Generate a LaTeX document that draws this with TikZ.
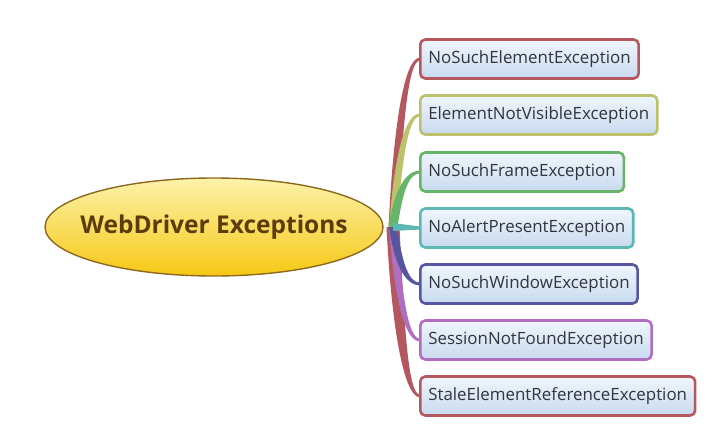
\documentclass[tikz,border=0pt]{standalone}
\usepackage{fontspec}
\setmainfont{Open Sans}
\usetikzlibrary{shapes.geometric,calc,backgrounds}
\definecolor{cRed}{RGB}{178,88,94}
\definecolor{cOlive}{RGB}{188,194,108}
\definecolor{cGreen}{RGB}{104,180,104}
\definecolor{cTeal}{RGB}{92,184,178}
\definecolor{cIndigo}{RGB}{86,86,160}
\definecolor{cOrchid}{RGB}{176,110,190}
\definecolor{boxTop}{RGB}{240,246,252}
\definecolor{boxBot}{RGB}{200,218,240}
\definecolor{ellTop}{RGB}{252,242,170}
\definecolor{ellBot}{RGB}{246,200,20}
\definecolor{ellLine}{RGB}{140,105,30}
\definecolor{titleC}{RGB}{92,60,12}
\definecolor{txtC}{RGB}{50,52,62}
\tikzset{
  exbox/.style={draw=#1, line width=2.6pt, rounded corners=5pt, top color=boxTop, bottom color=boxBot,
    anchor=west, minimum height=39pt, inner xsep=8pt, text=txtC, font=\fontsize{16.9}{20}\selectfont},
  rootell/.style={ellipse, draw=ellLine, line width=1.4pt, top color=ellTop, bottom color=ellBot,
    minimum width=338pt, minimum height=98pt, inner xsep=-40pt, inner ysep=0pt,
    text=titleC, font=\fontsize{24.5}{28}\bfseries\selectfont}
}
\newcommand\branch[4]{%
  \fill[#1] let \p1=(hub), \p2=(#2.west) in
    (\x1-#3/2,\y1) .. controls (\x1+5pt-#3/2,{\y1+(\y2-\y1)*0.6}) and (\x1+11pt,\y2+#4*1.4pt) .. (\x2+1pt,\y2+#4*1.4pt)
    -- (\x2+1pt,\y2-#4*1.4pt) .. controls (\x1+15pt,\y2-#4*1.4pt) and (\x1+5pt+#3/2,{\y1+(\y2-\y1)*0.6}) .. (\x1+#3/2,\y1) -- cycle;}
\begin{document}
\begin{tikzpicture}[x=1pt,y=-1pt]
\useasboundingbox (0,0) rectangle (715,436);
\coordinate (hub) at (393,227);
\node[exbox=cRed] (b1) at (419,59) {NoSuchElementException};
\node[exbox=cOlive] (b2) at (419,115) {ElementNotVisibleException};
\node[exbox=cGreen] (b3) at (419,172) {NoSuchFrameException};
\node[exbox=cTeal] (b4) at (419,228) {NoAlertPresentException};
\node[exbox=cIndigo] (b5) at (419,284) {NoSuchWindowException};
\node[exbox=cOrchid] (b6) at (419,340) {SessionNotFoundException};
\node[exbox=cRed] (b7) at (419,396) {StaleElementReferenceException};
\begin{scope}[on background layer]
\branch{cRed}{b1}{9pt}{1}
\branch{cRed}{b7}{13pt}{-1}
\branch{cOlive}{b2}{8pt}{1}
\branch{cOrchid}{b6}{8pt}{-1}
\branch{cIndigo}{b5}{8pt}{-1}
\branch{cGreen}{b3}{9pt}{1}
\fill[cTeal] let \p1=(hub), \p2=(b4.west) in (\x1,\y1+4pt) -- (\x2+1pt,\y2+1.5pt) -- (\x2+1pt,\y2-1.5pt) -- (\x1,\y1-4pt) -- cycle;
\end{scope}
\node[rootell] (root) at (214,227) {WebDriver Exceptions};
\end{tikzpicture}
\end{document}
